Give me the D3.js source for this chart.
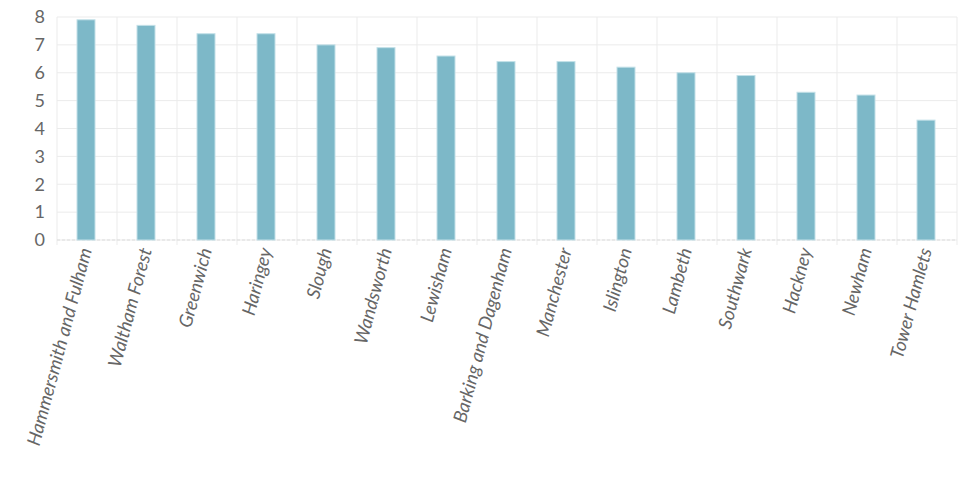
<!DOCTYPE html>
<html>
<head>
<meta charset="utf-8">
<script src="https://cdn.jsdelivr.net/npm/d3@7"></script>
<style>
  body { margin: 0; background: #fff; }
  text { font-family: Lato, "Open Sans", sans-serif; fill: #666; }
</style>
</head>
<body>
<svg id="chart" width="960" height="478"></svg>
<script>
// Boroughs and their values
var boroughs = ["Hammersmith and Fulham", "Waltham Forest", "Greenwich", "Haringey", "Slough",
  "Wandsworth", "Lewisham", "Barking and Dagenham", "Manchester", "Islington", "Lambeth",
  "Southwark", "Hackney", "Newham", "Tower Hamlets"];
var values = [7.9, 7.7, 7.4, 7.4, 7.0, 6.9, 6.6, 6.4, 6.4, 6.2, 6.0, 5.9, 5.3, 5.2, 4.3];
var yTicks = [0, 1, 2, 3, 4, 5, 6, 7, 8];

var margin = { top: 17, left: 57, right: 3, bottom: 238 };
var svg = d3.select("#chart");
var width = 960 - margin.left - margin.right;
var height = 478 - margin.top - margin.bottom;
var g = svg.append("g").attr("transform", `translate(${margin.left},${margin.top})`);

var x = d3.scaleBand().domain(boroughs).range([0, width]);
var y = d3.scaleLinear().domain([0, 8]).range([height, 0]);

// gridlines
g.selectAll(".hgrid").data(yTicks).join("line")
  .attr("x1", 0).attr("x2", width)
  .attr("y1", d => y(d)).attr("y2", d => y(d))
  .attr("stroke", "#ebebeb");
g.selectAll(".vgrid").data(boroughs.concat(["end"])).join("line")
  .attr("x1", (d, i) => i * x.step()).attr("x2", (d, i) => i * x.step())
  .attr("y1", 0).attr("y2", height + 5)
  .attr("stroke", "#ebebeb");
g.append("line").attr("x1", 0).attr("x2", width).attr("y1", height).attr("y2", height)
  .attr("stroke", "#ddd").attr("stroke-dasharray", "3,2");

// bars
var barW = 18;
g.selectAll(".bar").data(values).join("rect")
  .attr("x", (d, i) => x(boroughs[i]) + x.bandwidth() / 2 - barW / 2 - 1)
  .attr("y", d => y(d))
  .attr("width", barW)
  .attr("height", d => height - y(d))
  .attr("fill", "#7db8c8")
  .attr("stroke", "#c3e0e8").attr("stroke-width", 1);

// y labels
g.selectAll(".ylab").data(yTicks).join("text")
  .attr("x", -12).attr("y", d => y(d)).attr("dy", "0.35em")
  .attr("text-anchor", "end").attr("font-size", 18)
  .text(d => d);

// x labels
g.selectAll(".xlab").data(boroughs).join("text")
  .attr("transform", d => `translate(${x(d) + x.bandwidth() / 2 + 5},${height + 10}) rotate(-75)`)
  .attr("text-anchor", "end").attr("font-size", 18.5).attr("font-style", "italic")
  .text(d => d);
</script>
</body>
</html>
